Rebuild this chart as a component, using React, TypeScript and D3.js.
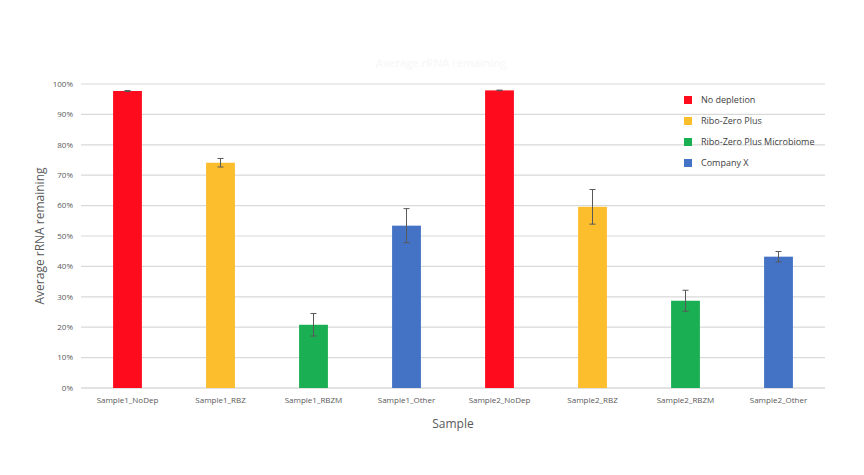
import React from "react";
import * as d3 from "d3";

const categories = [
  "Sample1_NoDep",
  "Sample1_RBZ",
  "Sample1_RBZM",
  "Sample1_Other",
  "Sample2_NoDep",
  "Sample2_RBZ",
  "Sample2_RBZM",
  "Sample2_Other",
];
const seriesOf = [0, 1, 2, 3, 0, 1, 2, 3];
const values = [97.7, 74.1, 20.8, 53.4, 97.9, 59.6, 28.7, 43.2];
const errors = [0.15, 1.4, 3.7, 5.6, 0.1, 5.7, 3.45, 1.7];
const seriesNames = ["No depletion", "Ribo-Zero Plus", "Ribo-Zero Plus Microbiome", "Company X"];
const seriesColors = ["#FE0C1D", "#FDBE2E", "#1BAF53", "#4472C4"];
const yTicks = [0, 10, 20, 30, 40, 50, 60, 70, 80, 90, 100];

const W = 864;
const H = 475;
const left = 81;
const right = 825;
const top = 84;
const bottom = 388;

export default function App() {
  const x = d3.scaleBand<string>().domain(categories).range([left, right]).paddingInner(0.69).paddingOuter(0.345);
  const y = d3.scaleLinear().domain([0, 100]).range([bottom, top]);
  const legendY = d3.scaleLinear().domain([0, 3]).range([100, 163]);
  const font = "'Open Sans', 'Liberation Sans', sans-serif";
  const cap = 3;

  return (
    <svg width={W} height={H} style={{ position: "absolute", left: 0, top: 0, background: "#fff" }} fontFamily={font}>
      <text x={441} y={67} textAnchor="middle" fontSize={11} fontWeight={600} fill="#f8f8f8">
        Average rRNA remaining
      </text>
      {yTicks.map((t) => (
        <g key={t}>
          <line x1={left} x2={right} y1={y(t)} y2={y(t)} stroke="#d9d9d9" strokeWidth={t === 0 ? 1.5 : 1.2} />
          <text x={73} y={y(t)} dy="0.35em" textAnchor="end" fontSize={8} fill="#595959">
            {t}%
          </text>
        </g>
      ))}
      {categories.map((c, i) => (
        <g key={c}>
          <rect
            x={x(c)}
            y={y(values[i])}
            width={x.bandwidth()}
            height={y(0) - y(values[i])}
            fill={seriesColors[seriesOf[i]]}
          />
          <line
            x1={x(c)! + x.bandwidth() / 2}
            x2={x(c)! + x.bandwidth() / 2}
            y1={y(values[i] + errors[i])}
            y2={y(values[i] - errors[i])}
            stroke="#595959"
            strokeWidth={1}
          />
          <line
            x1={x(c)! + x.bandwidth() / 2 - cap}
            x2={x(c)! + x.bandwidth() / 2 + cap}
            y1={y(values[i] + errors[i])}
            y2={y(values[i] + errors[i])}
            stroke="#595959"
            strokeWidth={1}
          />
          <line
            x1={x(c)! + x.bandwidth() / 2 - cap}
            x2={x(c)! + x.bandwidth() / 2 + cap}
            y1={y(values[i] - errors[i])}
            y2={y(values[i] - errors[i])}
            stroke="#595959"
            strokeWidth={1}
          />
          <text x={x(c)! + x.bandwidth() / 2} y={400} dy="0.35em" textAnchor="middle" fontSize={8} fill="#595959">
            {c}
          </text>
        </g>
      ))}
      <text x={453} y={424} dy="0.35em" textAnchor="middle" fontSize={12} fill="#595959">
        Sample
      </text>
      <text
        transform={`translate(40, ${(top + bottom) / 2}) rotate(-90)`}
        textAnchor="middle"
        dy="0.35em"
        fontSize={12}
        fill="#595959"
      >
        Average rRNA remaining
      </text>
      {seriesNames.map((s, i) => (
        <g key={s}>
          <rect x={684} y={legendY(i) - 4} width={8} height={8} fill={seriesColors[i]} />
          <text x={701} y={legendY(i)} dy="0.35em" fontSize={9} fill="#404040">
            {s}
          </text>
        </g>
      ))}
    </svg>
  );
}
